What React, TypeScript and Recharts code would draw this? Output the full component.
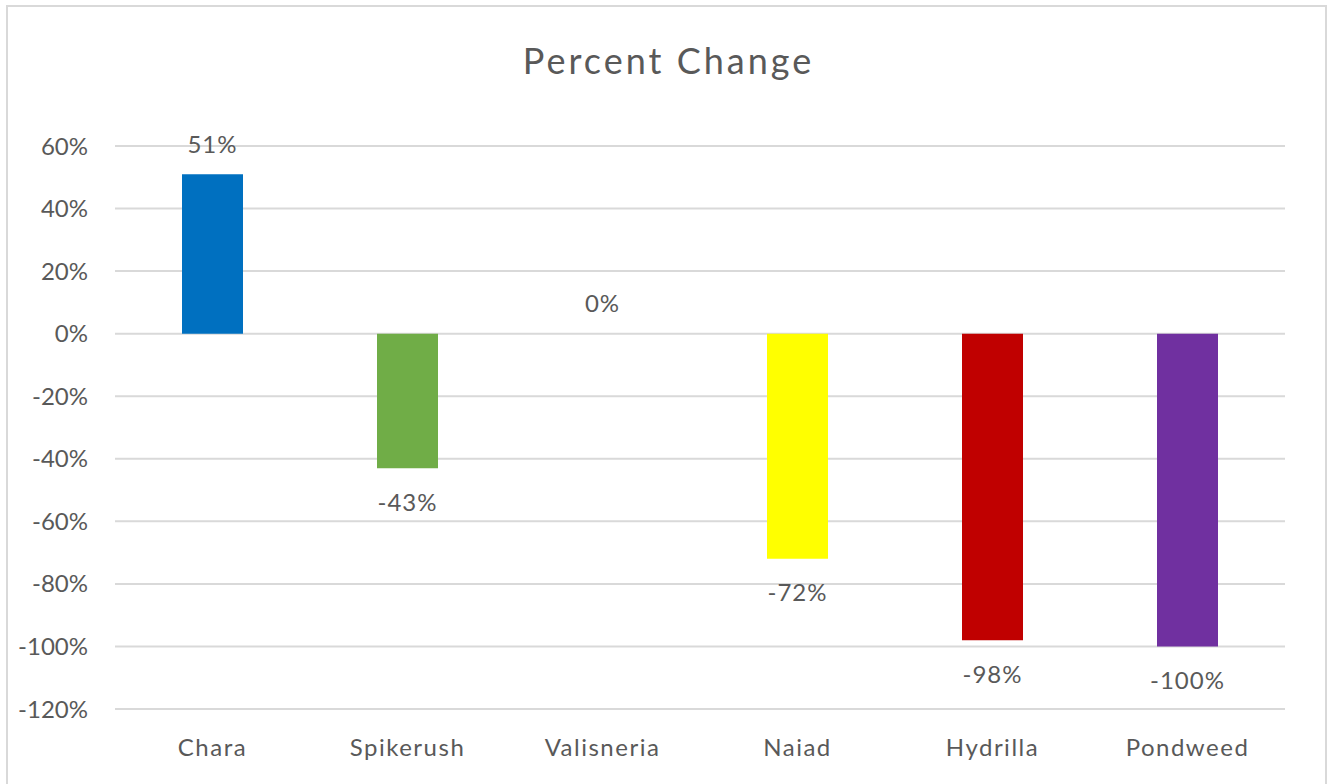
import React from "react";
import {
  ComposedChart,
  Bar,
  Line,
  XAxis,
  YAxis,
  CartesianGrid,
  Cell,
} from "recharts";

// chart values, in percent
const categories = ["Chara", "Spikerush", "Valisneria", "Naiad", "Hydrilla", "Pondweed"];
const percentChange = [51, -43, 0, -72, -98, -100];
const barColors = ["#0070C0", "#70AD47", "#FFC000", "#FFFF00", "#C00000", "#7030A0"];
const yTicks = [60, 40, 20, 0, -20, -40, -60, -80, -100, -120];

const chartData = categories.map((name, i) => ({
  name,
  change: percentChange[i],
}));

const FONT = "Lato, 'Liberation Sans', sans-serif";
const TEXT = "#595959";

// data label sits above the bar end for positive values, below it for negative ones
const renderLabel = (props: any) => {
  const { x, y, value } = props;
  const cy = value >= 0 ? y - 31 : y + 33;
  return (
    <text
      x={x}
      y={cy}
      textAnchor="middle"
      dominantBaseline="central"
      fill={TEXT}
      fontSize={24}
      fontFamily={FONT}
      letterSpacing={1}
    >
      {`${value}%`}
    </text>
  );
};

const App: React.FC = () => {
  return (
    <div style={{ position: "absolute", left: 0, top: 0, width: 1337, height: 784, background: "#fff" }}>
      <div
        style={{
          position: "absolute",
          left: 6,
          top: 5,
          width: 1321,
          height: 790,
          border: "2px solid #d9d9d9",
          boxSizing: "border-box",
        }}
      />
      <div
        style={{
          position: "absolute",
          left: 0,
          top: 38,
          width: 1337,
          textAlign: "center",
          fontFamily: FONT,
          fontSize: 36,
          letterSpacing: 3,
          color: TEXT,
          lineHeight: "44px",
        }}
      >
        Percent Change
      </div>
      <div style={{ position: "absolute", left: 0, top: 0 }}>
        <ComposedChart
          width={1337}
          height={784}
          data={chartData}
          margin={{ top: 146, right: 52, bottom: 45, left: 0 }}
        >
          <CartesianGrid vertical={false} stroke="#d9d9d9" strokeWidth={2} />
          <XAxis
            dataKey="name"
            height={30}
            axisLine={false}
            tickLine={false}
            tickSize={0}
            tickMargin={30}
            tick={{ fill: TEXT, fontSize: 24, fontFamily: FONT, letterSpacing: 1.5 }}
            interval={0}
          />
          <YAxis
            width={115}
            domain={[-120, 60]}
            ticks={yTicks}
            axisLine={false}
            tickLine={false}
            tickSize={0}
            tickMargin={27}
            tickFormatter={(v: number) => `${v}%`}
            tick={{ fill: TEXT, fontSize: 24, fontFamily: FONT }}
            interval={0}
          />
          <Bar dataKey="change" barSize={61} isAnimationActive={false}>
            {chartData.map((entry, index) => (
              <Cell key={`cell-${index}`} fill={barColors[index]} />
            ))}
          </Bar>
          <Line
            dataKey="change"
            stroke="none"
            dot={false}
            activeDot={false}
            legendType="none"
            isAnimationActive={false}
            label={renderLabel}
          />
        </ComposedChart>
      </div>
    </div>
  );
};

export default App;
